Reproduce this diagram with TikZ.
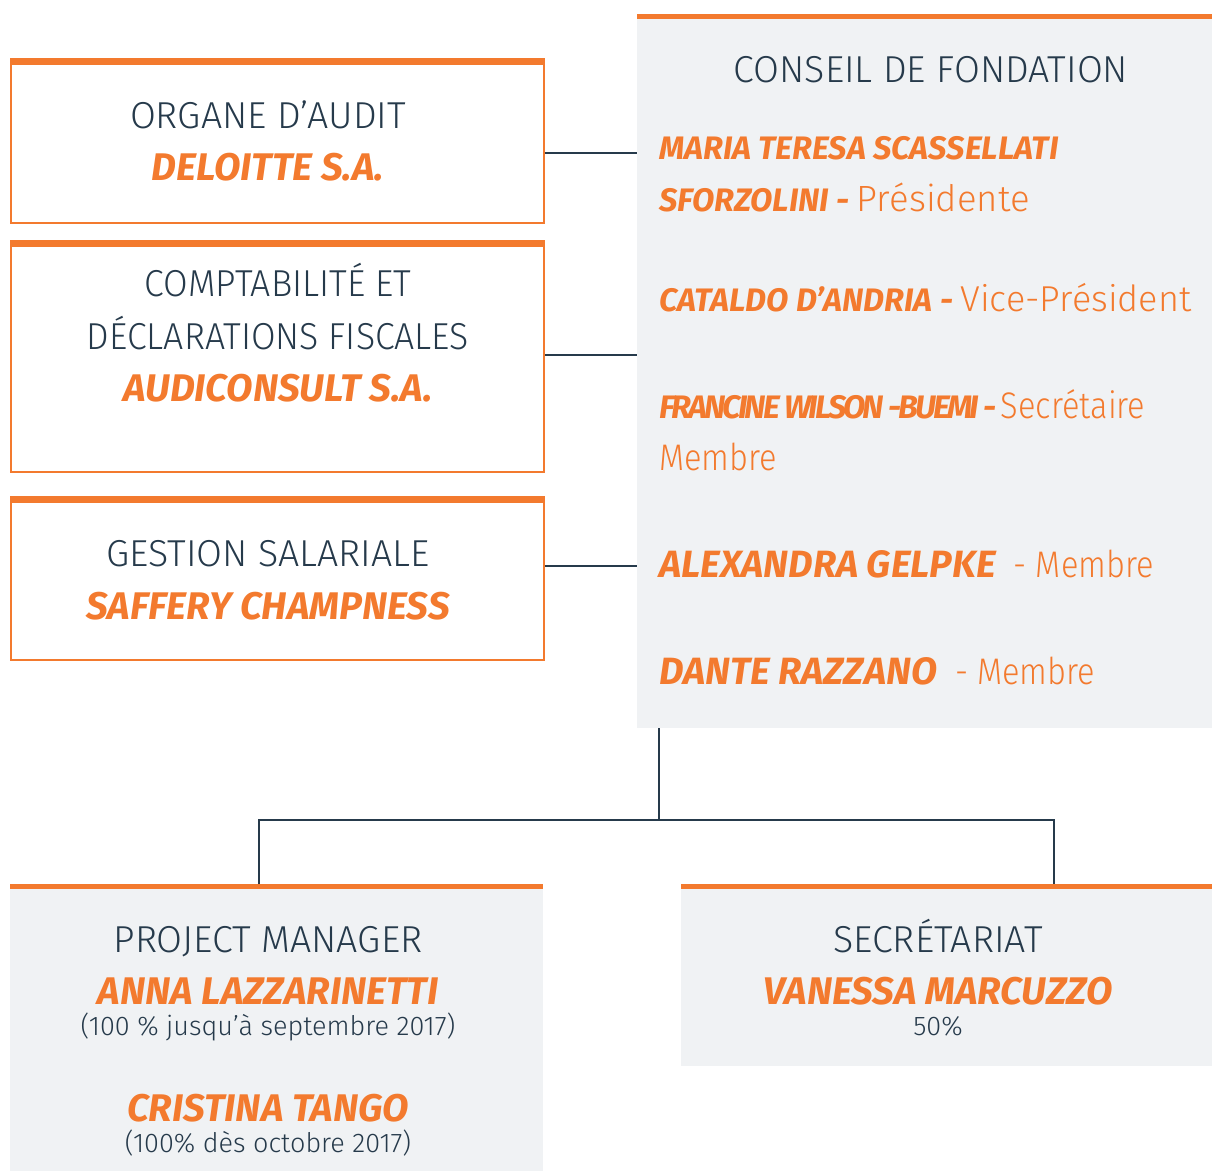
\documentclass[tikz,border=0pt]{standalone}
\usepackage{fontspec}
\setmainfont{Fira Sans}[UprightFont=* Light, BoldItalicFont=* Bold Italic]
\definecolor{org}{HTML}{F37A2E}
\definecolor{ink}{HTML}{263A4B}
\definecolor{pale}{HTML}{F0F2F4}
\newcommand{\roletxt}[1]{{\normalfont\fontsize{36.5}{42}\selectfont #1}}
\newcommand{\condrole}[1]{{\normalfont\fontsize{37}{42}\selectfont\addfontfeature{FakeStretch=0.88}#1}}
\tikzset{
 whitebox/.style={draw=org, line width=2pt, fill=white, inner sep=0pt, anchor=north west},
 graybox/.style={fill=pale, inner sep=0pt, anchor=north west},
 conn/.style={draw=ink, line width=2.5pt},
 titletxt/.style={text=ink, font=\fontsize{37.5}{44}\selectfont, anchor=base, inner sep=0pt},
 orgname/.style={text=org, font=\fontsize{38.5}{44}\selectfont\bfseries\itshape, anchor=base, inner sep=0pt},
 notetxt/.style={text=ink, font=\fontsize{27}{32}\selectfont, anchor=base, inner sep=0pt},
 member/.style={text=org, font=\fontsize{32.5}{38}\selectfont\bfseries\itshape, anchor=base west, inner sep=0pt},
 bigmember/.style={member, font=\fontsize{38}{42}\selectfont\bfseries\itshape},
}
\begin{document}
\begin{tikzpicture}[x=1pt,y=-1pt]
\useasboundingbox (0,0) rectangle (1212,1171);
% boxes
\node[whitebox, minimum width=533pt, minimum height=164pt] (audit) at (10,58) {};
\fill[org] (audit.north west) rectangle ([yshift=-7pt]audit.north east);
\node[whitebox, minimum width=533pt, minimum height=231pt] (compta) at (10,240) {};
\fill[org] (compta.north west) rectangle ([yshift=-7pt]compta.north east);
\node[whitebox, minimum width=533pt, minimum height=163pt] (salaire) at (10,496) {};
\fill[org] (salaire.north west) rectangle ([yshift=-7pt]salaire.north east);
\node[graybox, minimum width=575pt, minimum height=714pt] (conseil) at (637,14) {};
\fill[org] (conseil.north west) rectangle ([yshift=-5pt]conseil.north east);
\node[graybox, minimum width=533pt, minimum height=287pt] (pm) at (10,884) {};
\fill[org] (pm.north west) rectangle ([yshift=-5pt]pm.north east);
\node[graybox, minimum width=531pt, minimum height=182pt] (secr) at (681,884) {};
\fill[org] (secr.north west) rectangle ([yshift=-5pt]secr.north east);
% connectors
\draw[conn] ([yshift=-12pt]audit.east) -- ([yshift=-12pt]audit.east -| conseil.west);
\draw[conn] ([yshift=1.5pt]compta.east) -- ([yshift=1.5pt]compta.east -| conseil.west);
\draw[conn] ([yshift=12.5pt]salaire.east) -- ([yshift=12.5pt]salaire.east -| conseil.west);
\coordinate (j) at (659,820);
\coordinate (l) at (259,820);
\coordinate (r) at (1054,820);
\draw[conn] (j |- conseil.south) -- (j);
\draw[conn] (l |- pm.north) -- (l) -- (r) -- (r |- secr.north);
% texts
\node[titletxt] (t1) at (268,128) {ORGANE D’AUDIT};
\node[orgname] (n1) at (268,180) {DELOITTE S.A.};
\node[titletxt, font=\fontsize{37.5}{44}\selectfont\addfontfeature{FakeStretch=0.95}] (t2) at (278,296) {COMPTABILITÉ ET};
\node[titletxt, font=\fontsize{37.5}{44}\selectfont\addfontfeature{FakeStretch=0.95}] (t2b) at (278,349) {DÉCLARATIONS FISCALES};
\node[orgname] (n2) at (278,401) {AUDICONSULT S.A.};
\node[titletxt] (t3) at (268,566) {GESTION SALARIALE};
\node[orgname] (n3) at (268,619) {SAFFERY CHAMPNESS};
\node[titletxt] (t4) at (931,82) {CONSEIL DE FONDATION};
\node[member] (m1) at (659,159) {MARIA TERESA SCASSELLATI};
\node[member] (m1b) at (659,211) {SFORZOLINI - \roletxt{Présidente}};
\node[member] (m2) at (659,311) {CATALDO D’ANDRIA - {\normalfont\fontsize{36}{42}\selectfont Vice-Président}};
\node[member] (m3) at (659,418) {\addfontfeature{LetterSpace=-9}FRANCINE WILSON -BUEMI - \condrole{Secrétaire}};
\node[member] (m3b) at (659,470) {\condrole{Membre}};
\node[bigmember] (m4) at (659,577) {ALEXANDRA GELPKE\condrole{\ \ -\ Membre}};
\node[bigmember] (m5) at (659,684) {DANTE RAZZANO\condrole{\ \ -\ Membre}};
\node[titletxt] (t5) at (268,952) {PROJECT MANAGER};
\node[orgname] (n5) at (268,1004) {ANNA LAZZARINETTI};
\node[notetxt] (p5) at (268,1035) {(100 \% jusqu’à septembre 2017)};
\node[orgname] (n6) at (268,1121) {CRISTINA TANGO};
\node[notetxt] (p6) at (268,1152) {(100\% dès octobre 2017)};
\node[titletxt] (t7) at (938,952) {SECRÉTARIAT};
\node[orgname] (n7) at (938,1004) {VANESSA MARCUZZO};
\node[notetxt] (p7) at (938,1035) {50\%};
\end{tikzpicture}
\end{document}
